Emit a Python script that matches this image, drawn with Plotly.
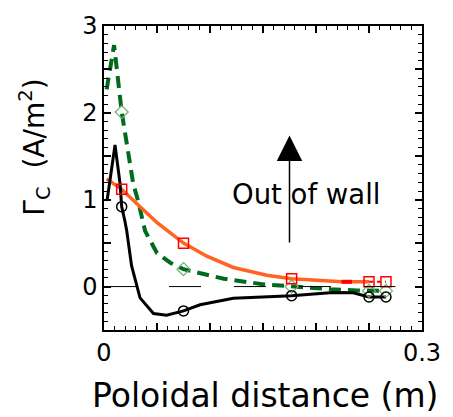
import plotly.graph_objects as go

# ---- data ----
black_x = [0.003, 0.0104, 0.0151, 0.0167, 0.0198, 0.0214, 0.026, 0.034, 0.0467, 0.059,
           0.075, 0.0906, 0.122, 0.177, 0.216, 0.235, 0.25, 0.266]
black_y = [1.00, 1.63, 1.19, 0.92, 0.75, 0.645, 0.24, -0.13, -0.31, -0.33,
           -0.28, -0.21, -0.135, -0.105, -0.068, -0.072, -0.12, -0.12]

orange_x = [0.0025, 0.0167, 0.034, 0.0498, 0.075, 0.097, 0.122, 0.1536, 0.177, 0.2134, 0.2245, 0.25]
orange_y = [1.24, 1.12, 0.92, 0.74, 0.50, 0.35, 0.22, 0.13, 0.09, 0.063, 0.055, 0.055]

green_x = [0.0025, 0.0095, 0.0167, 0.0275, 0.0325, 0.0388, 0.050, 0.0625, 0.075,
           0.113, 0.151, 0.177, 0.214, 0.239, 0.25, 0.266]
green_y = [2.27, 2.78, 2.01, 1.19, 0.97, 0.64, 0.385, 0.275, 0.20,
           0.09, 0.025, 0.0, -0.03, -0.045, -0.05, -0.05]

red_seg_x = [0.224, 0.234]
red_seg_y = [0.055, 0.055]
red_tail_x = [0.25, 0.266]
red_tail_y = [0.055, 0.055]

pts_x = [0.0167, 0.075, 0.177, 0.25, 0.266]
circ_y = [0.92, -0.28, -0.105, -0.12, -0.12]
sq_y = [1.12, 0.50, 0.09, 0.055, 0.055]
dia_y = [2.01, 0.20, 0.0, -0.05, -0.05]

zero_x = [0.0, 0.275]
zero_y = [0.0, 0.0]

arrow_x = 0.175
arrow_y0 = 0.49
arrow_y1 = 1.74
label_x = 0.1907
label_y = 1.07

x_label_vals = [0, 0.30]
x_label_text = ["0", "0.3"]
x_extra_major = [0.05, 0.10, 0.15, 0.20, 0.25]
y_label_vals = [0, 1, 2, 3]
y_label_text = ["0", "1", "2", "3"]
y_extra_major = [0.5, 1.5, 2.5]

X_RANGE = [0, 0.3]
Y_RANGE = [-0.5, 3.0]

FONT = "DejaVu Sans"
ORANGE = "#FF6420"
DKGREEN = "#006A1E"
LTGREEN = "#6FAE6F"

fig = go.Figure()
fig.add_trace(go.Scatter(x=zero_x, y=zero_y, mode="lines", xaxis="x2", yaxis="y2",
                         line=dict(color="black", width=1, dash="32px,33px")))
fig.add_trace(go.Scatter(x=green_x, y=green_y, mode="lines",
                         line=dict(color=DKGREEN, width=4, dash="12px,7px")))
fig.add_trace(go.Scatter(x=orange_x, y=orange_y, mode="lines",
                         line=dict(color=ORANGE, width=3.5)))
fig.add_trace(go.Scatter(x=red_seg_x, y=red_seg_y, mode="lines",
                         line=dict(color="red", width=4)))
fig.add_trace(go.Scatter(x=red_tail_x, y=red_tail_y, mode="lines",
                         line=dict(color="red", width=2, dash="4px,4px")))
fig.add_trace(go.Scatter(x=black_x, y=black_y, mode="lines",
                         line=dict(color="black", width=3)))
fig.add_trace(go.Scatter(x=pts_x, y=dia_y, mode="markers",
                         marker=dict(symbol="diamond-open", size=10, color=LTGREEN,
                                     line=dict(width=1.2, color=LTGREEN))))
fig.add_trace(go.Scatter(x=pts_x, y=sq_y, mode="markers",
                         marker=dict(symbol="square-open", size=10, color="red",
                                     line=dict(width=1.5, color="red"))))
fig.add_trace(go.Scatter(x=pts_x, y=circ_y, mode="markers",
                         marker=dict(symbol="circle-open", size=10, color="black",
                                     line=dict(width=1.5, color="black"))))

axis_common = dict(showline=True, linecolor="black", linewidth=1.5, mirror="allticks",
                   ticks="inside", ticklen=7, tickwidth=1.5, tickcolor="black",
                   showgrid=False, zeroline=False,
                   tickfont=dict(family=FONT, size=24, color="black"))

fig.update_layout(
    xaxis=dict(range=X_RANGE, tickmode="array", tickvals=x_label_vals, ticktext=x_label_text,
               minor=dict(tickmode="linear", tick0=0, dtick=0.01, ticks="inside",
                          ticklen=4, tickwidth=1.2, tickcolor="black"),
               **axis_common),
    yaxis=dict(range=Y_RANGE, tickmode="array", tickvals=y_label_vals, ticktext=y_label_text,
               minor=dict(tickmode="linear", tick0=0, dtick=0.1, ticks="inside",
                          ticklen=4, tickwidth=1.2, tickcolor="black"),
               **axis_common),
    xaxis2=dict(range=X_RANGE, overlaying="x", anchor="y2", side="bottom",
                tickmode="array", tickvals=x_extra_major, showticklabels=False,
                **axis_common),
    yaxis2=dict(range=Y_RANGE, overlaying="y", anchor="x2", side="left",
                tickmode="array", tickvals=y_extra_major, showticklabels=False,
                **axis_common),
)

fig.add_annotation(x=arrow_x, y=arrow_y1, ax=arrow_x, ay=arrow_y0, xref="x", yref="y",
                   axref="x", ayref="y", showarrow=True, arrowhead=2, arrowsize=3.4,
                   arrowwidth=1.5, arrowcolor="black", standoff=0, startstandoff=0, text="")
fig.add_annotation(x=label_x, y=label_y, xref="x", yref="y", text="Out of wall",
                   showarrow=False, xanchor="center", yanchor="middle",
                   font=dict(family=FONT, size=27.5, color="black"))
fig.add_annotation(x=-0.217, y=0.603, xref="paper", yref="paper",
                   text="Γ<sub>C</sub>\u00a0 (A/m<sup>2</sup>)", textangle=-90,
                   showarrow=False, xanchor="center", yanchor="middle",
                   font=dict(family=FONT, size=28, color="black"))
fig.add_annotation(x=0.506, y=-0.215, xref="paper", yref="paper",
                   text="Poloidal distance (m)", showarrow=False,
                   xanchor="center", yanchor="middle",
                   font=dict(family=FONT, size=33, color="black"))

fig.update_layout(width=453, height=417, margin=dict(l=104, r=31, t=14, b=87),
                  paper_bgcolor="white", plot_bgcolor="white", showlegend=False)

fig.write_html("out.html")
